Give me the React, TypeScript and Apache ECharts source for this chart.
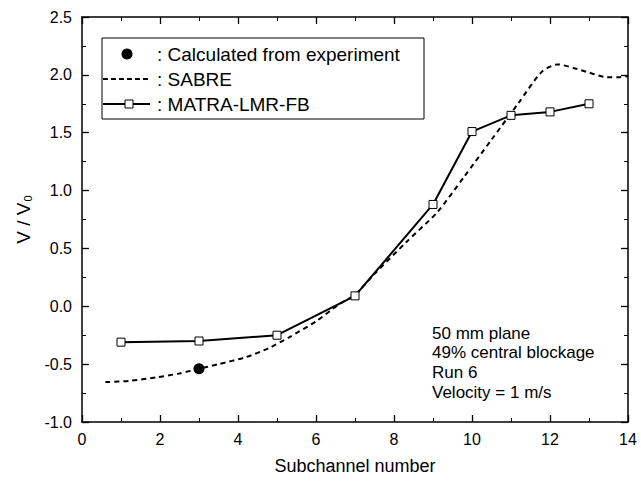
import React, { useEffect, useRef } from "react";
import * as echarts from "echarts";

// Data
const matraX = [1, 3, 5, 7, 9, 10, 11, 12, 13];
const matraY = [-0.31, -0.3, -0.25, 0.09, 0.88, 1.51, 1.65, 1.68, 1.75];

const sabreX = [0.6, 1.2, 1.9, 2.5, 3.0, 3.5, 4.2, 4.8, 5.3, 6.0, 6.6, 7.0, 7.5, 8.3, 9.1, 9.8, 10.5, 11.2, 11.8, 12.2, 12.6, 13.0, 13.45, 13.8, 14.0];
const sabreY = [-0.655, -0.645, -0.615, -0.58, -0.54, -0.5, -0.44, -0.36, -0.27, -0.13, 0.02, 0.1, 0.28, 0.55, 0.81, 1.12, 1.44, 1.76, 2.03, 2.09, 2.06, 2.02, 1.98, 1.98, 1.99];

const expX = [3];
const expY = [-0.54];

const legendLabels = [": Calculated from experiment", ": SABRE", ": MATRA-LMR-FB"];
const noteLines = ["50 mm plane", "49% central blockage", "Run 6", "Velocity = 1 m/s"];

const FONT = "'Liberation Sans', Arial, Helvetica, sans-serif";

export default function App() {
  const ref = useRef<HTMLDivElement>(null);
  useEffect(() => {
    if (!ref.current) return;
    const chart = echarts.init(ref.current, undefined, { renderer: "svg" });
    const zip = (xs: number[], ys: number[]) => xs.map((x, i) => [x, ys[i]]);

    const axisCommon = {
      axisLine: { show: true, onZero: false, lineStyle: { color: "#000", width: 1.5 } },
      axisTick: { show: true, inside: true, length: 7, lineStyle: { color: "#000", width: 1.3 } },
      minorTick: { show: true, splitNumber: 2, length: 4, lineStyle: { color: "#000", width: 1 } },
      splitLine: { show: false },
    };

    chart.setOption({
      animation: false,
      backgroundColor: "#fff",
      textStyle: { fontFamily: FONT },
      grid: { left: 82, right: 13, top: 17, bottom: 59 },
      xAxis: [
        {
          type: "value",
          min: 0,
          max: 14,
          interval: 2,
          position: "bottom",
          name: "Subchannel number",
          nameLocation: "middle",
          nameGap: 35,
          nameTextStyle: { fontSize: 18, color: "#000", fontFamily: FONT },
          axisLabel: { fontSize: 16, color: "#000", margin: 9, fontFamily: FONT },
          ...axisCommon,
        },
        {
          type: "value",
          min: 0,
          max: 14,
          interval: 2,
          position: "top",
          axisLabel: { show: false },
          ...axisCommon,
        },
      ],
      yAxis: [
        {
          type: "value",
          min: -1,
          max: 2.5,
          interval: 0.5,
          position: "left",
          name: "{a|V / V}{b|0}",
          nameLocation: "middle",
          nameRotate: 90,
          nameGap: 37,
          nameTextStyle: {
            color: "#000",
            fontFamily: FONT,
            rich: {
              a: { fontSize: 19, color: "#000", fontFamily: FONT },
              b: { fontSize: 11, color: "#000", fontFamily: FONT, padding: [9, 0, 0, 1] },
            },
          },
          axisLabel: {
            fontSize: 16,
            color: "#000",
            margin: 10,
            fontFamily: FONT,
            formatter: (v: number) => v.toFixed(1),
          },
          ...axisCommon,
        },
        {
          type: "value",
          min: -1,
          max: 2.5,
          interval: 0.5,
          position: "right",
          axisLabel: { show: false },
          ...axisCommon,
        },
      ],
      series: [
        {
          name: "SABRE",
          type: "line",
          data: zip(sabreX, sabreY),
          smooth: 0.25,
          showSymbol: false,
          symbol: "none",
          lineStyle: { color: "#000", width: 2, type: [5, 4] },
          z: 2,
        },
        {
          name: "MATRA-LMR-FB",
          type: "line",
          data: zip(matraX, matraY),
          symbol: "rect",
          symbolSize: 8,
          itemStyle: { color: "#fff", borderColor: "#000", borderWidth: 1 },
          lineStyle: { color: "#000", width: 2 },
          z: 3,
        },
        {
          name: "Calculated from experiment",
          type: "scatter",
          data: zip(expX, expY),
          symbol: "circle",
          symbolSize: 11,
          itemStyle: { color: "#000", opacity: 1 },
          z: 4,
        },
      ],
      graphic: [
        {
          type: "rect",
          shape: { x: 102, y: 38, width: 322, height: 81 },
          style: { fill: "#fff", stroke: "#000", lineWidth: 1 },
          z: 10,
        },
        {
          type: "circle",
          shape: { cx: 127, cy: 54, r: 5.5 },
          style: { fill: "#000" },
          z: 11,
        },
        {
          type: "line",
          shape: { x1: 103, y1: 79, x2: 150, y2: 79 },
          style: { stroke: "#000", lineWidth: 2, lineDash: [5, 3] },
          z: 11,
        },
        {
          type: "line",
          shape: { x1: 103, y1: 104, x2: 150, y2: 104 },
          style: { stroke: "#000", lineWidth: 2 },
          z: 11,
        },
        {
          type: "rect",
          shape: { x: 125, y: 100, width: 8, height: 8 },
          style: { fill: "#fff", stroke: "#000", lineWidth: 1 },
          z: 12,
        },
        ...legendLabels.map((t, i) => ({
          type: "text",
          x: 157,
          y: 54 + i * 25,
          style: {
            text: t,
            fontSize: 19,
            fontFamily: FONT,
            fill: "#000",
            verticalAlign: "middle",
          },
          z: 12,
        })),
        ...noteLines.map((t, i) => ({
          type: "text",
          x: 432,
          y: 333 + i * 19.7,
          style: {
            text: t,
            fontSize: 17,
            fontFamily: FONT,
            fill: "#000",
            verticalAlign: "middle",
          },
          z: 12,
        })),
      ],
    });
    return () => chart.dispose();
  }, []);
  return (
    <div
      ref={ref}
      style={{ position: "fixed", left: 0, top: 0, width: 641, height: 481, background: "#fff" }}
    />
  );
}
